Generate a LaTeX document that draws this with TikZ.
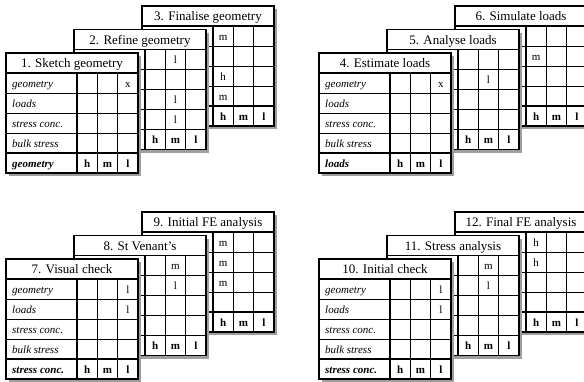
\documentclass[tikz,border=0pt]{standalone}
\usepackage{fontspec}
\setmainfont{Liberation Serif}
\tikzset{
  cardshadow/.style={fill=black!38, draw=none},
  thinrule/.style={line width=0.6pt},
  midrule/.style={line width=1.1pt},
  thickrule/.style={line width=1.4pt},
  outerrule/.style={line width=1.6pt},
  titletext/.style={font=\fontsize{13}{13}\selectfont, inner sep=0pt, anchor=base},
  labeltext/.style={font=\fontsize{11}{11}\selectfont\itshape, inner sep=0pt, anchor=base west},
  keytext/.style={font=\fontsize{11}{11}\selectfont\bfseries\itshape, inner sep=0pt, anchor=base west},
  valtext/.style={font=\fontsize{11}{11}\selectfont, inner sep=0pt, anchor=base},
  boldval/.style={font=\fontsize{11}{11}\selectfont\bfseries, inner sep=0pt, anchor=base},
}
% #1 name, #2 title
\newcommand\cardbase[2]{%
  \fill[cardshadow] (3,3) rectangle (135,123);
  \fill[white] (0,0) rectangle (132,120);
  \foreach \yy in {40,60,80} \draw[thinrule] (0,\yy) -- (132,\yy);
  \foreach \xx in {91.33,111.67} \draw[thinrule] (\xx,20) -- (\xx,120);
  \draw[midrule] (71,20) -- (71,120);
  \draw[thickrule] (0,20) -- (132,20);
  \draw[thickrule] (0,100) -- (132,100);
  \draw[outerrule] (0,0) rectangle (132,120);
  \node[titletext] (#1-title) at (66,14.6) {#2};
  \node[boldval] (#1-h) at (81.17,114) {h};
  \node[boldval] (#1-m) at (101.5,114) {m};
  \node[boldval] (#1-l) at (121.83,114) {l};
}
% #1 name, #2 key label
\newcommand\cardlabels[2]{%
  \node[labeltext] (#1-geo) at (6,34) {geometry};
  \node[labeltext] (#1-loads) at (6,54) {loads};
  \node[labeltext] (#1-sc) at (6,74) {stress conc.};
  \node[labeltext] (#1-bs) at (6,94) {bulk stress};
  \node[keytext] (#1-key) at (6,114) {#2};
}
% #1 node name, #2 column, #3 row, #4 text
\newcommand\cellval[4]{%
  \node[valtext] (#1) at ({60.83+20.33*#2},{14+20*#3}) {#4};
}
\begin{document}
\begin{tikzpicture}[x=1pt,y=-1pt]
\useasboundingbox (0,0) rectangle (584,381);
\clip (0,0) rectangle (584,381);

% ---------- group 1: geometry ----------
\begin{scope}[shift={(142,6)}]
  \cardbase{c3}{3. Finalise geometry}
  \cellval{c3-a}{1}{1}{m}
  \cellval{c3-b}{1}{3}{h}
  \cellval{c3-c}{1}{4}{m}
\end{scope}
\begin{scope}[shift={(74,29.5)}]
  \cardbase{c2}{2. Refine geometry}
  \cellval{c2-a}{2}{1}{l}
  \cellval{c2-b}{2}{3}{l}
  \cellval{c2-c}{2}{4}{l}
\end{scope}
\begin{scope}[shift={(6,53)}]
  \cardbase{c1}{1. Sketch geometry}
  \cardlabels{c1}{geometry}
  \cellval{c1-a}{3}{1}{x}
\end{scope}

% ---------- group 2: loads ----------
\begin{scope}[shift={(455,6)}]
  \cardbase{c6}{6. Simulate loads}
  \cellval{c6-a}{1}{2}{m}
\end{scope}
\begin{scope}[shift={(387,29.5)}]
  \cardbase{c5}{5. Analyse loads}
  \cellval{c5-a}{2}{2}{l}
\end{scope}
\begin{scope}[shift={(319,53)}]
  \cardbase{c4}{4. Estimate loads}
  \cardlabels{c4}{loads}
  \cellval{c4-a}{3}{1}{x}
\end{scope}

% ---------- group 3: stress conc. (left) ----------
\begin{scope}[shift={(142,212)}]
  \cardbase{c9}{9. Initial FE analysis}
  \cellval{c9-a}{1}{1}{m}
  \cellval{c9-b}{1}{2}{m}
  \cellval{c9-c}{1}{3}{m}
\end{scope}
\begin{scope}[shift={(74,235.5)}]
  \cardbase{c8}{8. St Venant's}
  \cellval{c8-a}{2}{1}{m}
  \cellval{c8-b}{2}{2}{l}
\end{scope}
\begin{scope}[shift={(6,259)}]
  \cardbase{c7}{7. Visual check}
  \cardlabels{c7}{stress conc.}
  \cellval{c7-a}{3}{1}{l}
  \cellval{c7-b}{3}{2}{l}
\end{scope}

% ---------- group 4: stress conc. (right) ----------
\begin{scope}[shift={(455,212)}]
  \cardbase{c12}{12. Final FE analysis}
  \cellval{c12-a}{1}{1}{h}
  \cellval{c12-b}{1}{2}{h}
\end{scope}
\begin{scope}[shift={(387,235.5)}]
  \cardbase{c11}{11. Stress analysis}
  \cellval{c11-a}{2}{1}{m}
  \cellval{c11-b}{2}{2}{l}
\end{scope}
\begin{scope}[shift={(319,259)}]
  \cardbase{c10}{10. Initial check}
  \cardlabels{c10}{stress conc.}
  \cellval{c10-a}{3}{1}{l}
  \cellval{c10-b}{3}{2}{l}
\end{scope}
\end{tikzpicture}
\end{document}
